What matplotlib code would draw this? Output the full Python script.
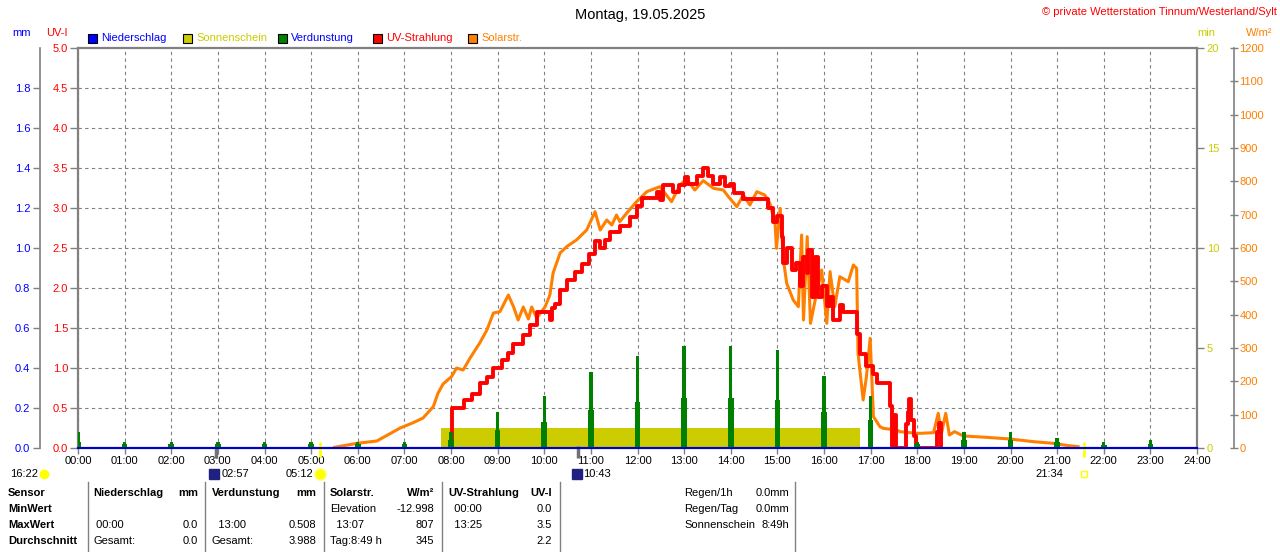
import numpy as np
import matplotlib.pyplot as plt
from matplotlib.patches import Rectangle
from matplotlib.lines import Line2D

plt.rcParams['font.family'] = ['Liberation Sans', 'DejaVu Sans']
plt.rcParams['font.size'] = 8

# ---- data ----
hours = list(range(24))
hour_labels = ['%02d:00' % h for h in range(25)]

# Solarstrahlung W/m2
solar_t = [5.5, 5.98, 6.41, 6.91, 7.19, 7.4, 7.62, 7.72, 7.83, 8.01,
           8.12, 8.26, 8.41, 8.62, 8.77, 8.91, 9.05, 9.23, 9.34, 9.44,
           9.55, 9.66, 9.73, 9.84, 10.02, 10.12, 10.19, 10.34, 10.48, 10.69,
           10.91, 11.09, 11.2, 11.34, 11.45, 11.55, 11.62, 11.77, 11.98, 12.2,
           12.48, 12.73, 12.91, 13.05, 13.23, 13.41, 13.63, 13.84, 13.95, 14.13,
           14.27, 14.41, 14.56, 14.73, 14.84, 14.95, 14.98, 15.06, 15.13, 15.2,
           15.34, 15.45, 15.52, 15.56, 15.64, 15.71, 15.84, 15.95, 16.06, 16.13,
           16.23, 16.34, 16.52, 16.63, 16.7, 16.73, 16.84, 16.91, 16.99, 17.06,
           17.2, 17.27, 17.56, 17.63, 17.99, 18.06, 18.35, 18.45, 18.52, 18.61,
           18.69, 18.8, 18.99, 19.49, 19.99, 20.49, 20.92, 21.2, 21.45]
solar_w = [2, 14, 21, 60, 76, 90, 124, 164, 192, 214,
           240, 234, 270, 316, 354, 405, 409, 459, 424, 384,
           423, 387, 423, 390, 424, 459, 525, 585, 604, 624,
           654, 709, 654, 684, 669, 699, 679, 705, 739, 769,
           784, 739, 789, 807, 774, 802, 779, 774, 754, 724,
           759, 729, 769, 759, 734, 674, 599, 719, 564, 494,
           444, 424, 639, 384, 634, 374, 464, 534, 374, 529,
           424, 514, 499, 549, 539, 284, 144, 214, 329, 94,
           64, 59, 54, 49, 44, 44, 46, 104, 44, 104,
           39, 49, 36, 32, 27, 19, 14, 8, 4]

# UV-Index
uv_t = [8.0, 8.03, 8.27, 8.44, 8.62, 8.77, 8.91, 9.09, 9.23, 9.34,
        9.55, 9.69, 9.84, 10.13, 10.17, 10.23, 10.34, 10.48, 10.66, 10.8,
        10.95, 11.09, 11.2, 11.3, 11.41, 11.62, 11.84, 11.98, 12.09, 12.41,
        12.48, 12.55, 12.77, 12.88, 13.02, 13.09, 13.27, 13.41, 13.52, 13.63,
        13.77, 13.88, 13.98, 14.06, 14.27, 14.8, 14.91, 15.0, 15.09, 15.13,
        15.2, 15.31, 15.41, 15.48, 15.56, 15.63, 15.66, 15.74, 15.8, 15.88,
        15.95, 16.06, 16.13, 16.2, 16.34, 16.41, 16.7, 16.77, 16.91, 17.06,
        17.13, 17.41, 17.45, 17.5, 17.54, 17.76, 17.8, 17.83, 17.87, 17.92,
        17.98, 18.42, 18.46, 18.5]
uv_i = [0.0, 0.5, 0.6, 0.68, 0.81, 0.89, 1.0, 1.1, 1.19, 1.3,
        1.41, 1.54, 1.7, 1.6, 1.75, 1.8, 1.98, 2.1, 2.2, 2.3,
        2.43, 2.59, 2.5, 2.6, 2.7, 2.77, 2.89, 3.02, 3.12, 3.2,
        3.1, 3.29, 3.2, 3.29, 3.39, 3.3, 3.4, 3.5, 3.4, 3.3,
        3.39, 3.27, 3.3, 3.19, 3.11, 3.0, 2.83, 2.9, 2.64, 2.31,
        2.5, 2.22, 2.31, 2.02, 2.39, 2.19, 2.48, 1.89, 2.39, 1.89,
        2.02, 1.77, 1.89, 1.6, 1.79, 1.7, 1.43, 1.18, 1.02, 0.93,
        0.81, 0.52, 0.0, 0.41, 0.0, 0.3, 0.45, 0.61, 0.35, 0.15,
        0.0, 0.2, 0.31, 0.0]

# Verdunstung mm per hour (top) and lower part of each bar
evap_hi = [0.08, 0.03, 0.03, 0.03, 0.03, 0.03, 0.03, 0.03, 0.08, 0.18, 0.26, 0.38,
           0.46, 0.51, 0.51, 0.49, 0.36, 0.26, 0.03, 0.08, 0.08, 0.05, 0.03, 0.04]
evap_lo = [0.03, 0.02, 0.02, 0.02, 0.02, 0.02, 0.02, 0.02, 0.04, 0.09, 0.13, 0.19,
           0.23, 0.25, 0.25, 0.24, 0.18, 0.14, 0.02, 0.04, 0.04, 0.03, 0.015, 0.02]

# Sonnenschein (min)
sun_start = [7.78, 16.95]
sun_end = [16.78, 17.0]
sun_min = [1.0, 1.0]

# Niederschlag
rain_t = [0, 24]
rain_mm = [0.0, 0.0]

# Sonnen-/Mondauf- und -untergang
sun_events = [5.2, 21.567]
moon_events = [2.95, 10.717]

GREY = '#808080'
YELLOW = '#cccc00'
ORANGE = '#ff8000'
RED = '#ff0000'
BLUE = '#0000ff'
GREEN = '#008000'

W, H = 1280, 552
def fx(x):
    return x / W
def fy(y):
    return 1 - y / H

fig = plt.figure(figsize=(12.8, 5.52), dpi=100)
ax = fig.add_axes([fx(78), fy(448), (1197 - 78) / W, (448 - 48) / H])
ax_w = ax.twinx()
ax_uv = ax.twinx()
ax_mm = ax.twinx()
ax.set_zorder(1)
ax_w.set_zorder(2)
ax_uv.set_zorder(3)
ax_mm.set_zorder(4)

# base axes: time + sunshine minutes
ax.set_xlim(0, 24)
ax.set_ylim(0, 20)
ax.set_xticks(range(25))
ax.set_xticklabels(hour_labels)
ax.yaxis.tick_right()
ax.set_yticks([0, 5, 10, 15, 20])
ax.yaxis.remove_overlapping_locs = False
ax.set_yticks(np.arange(0, 20, 2), minor=True)
ax.tick_params(axis='x', direction='out', length=4, width=1, color=GREY, pad=2, labelcolor='black')
ax.tick_params(axis='y', which='major', direction='out', length=5, width=1, color=GREY,
               labelcolor=YELLOW, pad=2)
ax.tick_params(axis='y', which='minor', length=0)
ax.grid(axis='x', which='major', color=GREY, linestyle=(0, (3, 3)), linewidth=0.8)
ax.grid(axis='y', which='minor', color=GREY, linestyle=(0, (3, 3)), linewidth=0.8)
ax.set_axisbelow(True)
for s in ax.spines.values():
    s.set_color(GREY)
    s.set_linewidth(1.6)

ax.bar(sun_start, sun_min, width=np.subtract(sun_end, sun_start), align='edge',
       color=YELLOW, linewidth=0)

# W/m2 axis
ax_w.set_ylim(0, 1200)
ax_w.set_yticks(range(0, 1201, 100))
ax_w.spines['right'].set_position(('axes', (1234 - 78) / 1119))
ax_w.spines['right'].set_color(GREY)
ax_w.spines['right'].set_linewidth(1.2)
for k in ['left', 'top', 'bottom']:
    ax_w.spines[k].set_visible(False)
ax_w.tick_params(axis='y', direction='inout', length=6, width=1, color=GREY, labelcolor=ORANGE, pad=1)
ax_w.plot(solar_t, solar_w, color=ORANGE, linewidth=2.2)

# UV axis
ax_uv.set_ylim(0, 5)
ax_uv.yaxis.tick_left()
ax_uv.set_yticks(np.arange(0, 5.01, 0.5))
ax_uv.set_yticklabels(['%.1f' % v for v in np.arange(0, 5.01, 0.5)])
ax_uv.tick_params(axis='y', direction='out', length=6, width=1, color=GREY, labelcolor=RED, pad=1)
for k in ['right', 'top', 'bottom', 'left']:
    ax_uv.spines[k].set_visible(False)
ax_uv.plot(uv_t, uv_i, color=RED, linewidth=2.8, drawstyle='steps-post')

# mm axis
ax_mm.set_ylim(0, 2.0)
ax_mm.yaxis.tick_left()
ax_mm.set_yticks(np.arange(0, 1.81, 0.2))
ax_mm.set_yticklabels(['%.1f' % v for v in np.arange(0, 1.81, 0.2)])
ax_mm.spines['left'].set_position(('axes', -(78 - 40) / 1119))
ax_mm.spines['left'].set_color(GREY)
ax_mm.spines['left'].set_linewidth(1.2)
for k in ['right', 'top', 'bottom']:
    ax_mm.spines[k].set_visible(False)
ax_mm.tick_params(axis='y', direction='out', length=5, width=1, color=GREY, labelcolor=BLUE, pad=2)
ax_mm.bar(hours, evap_lo, width=0.12, color=GREEN, linewidth=0)
ax_mm.bar(hours, evap_hi, width=0.07, color=GREEN, linewidth=0)
ax_mm.plot(rain_t, rain_mm, color='#0000cc', linewidth=1.5, clip_on=False)

# twinx moved the base ticks to the left, put them back
ax.yaxis.tick_right()

# sunrise / moonrise marks on the time axis
ax.vlines(sun_events, -0.45, 0.3, colors='#ffff00', linewidth=2, clip_on=False, zorder=5)
ax.vlines(moon_events, -0.5, 0.1, colors='#707070', linewidth=2.5, clip_on=False, zorder=5)

# ---- texts ----
fig.text(0.5, fy(15), 'Montag, 19.05.2025', ha='center', va='center', fontsize=10.5)
fig.text(fx(1277), fy(12), '© private Wetterstation Tinnum/Westerland/Sylt', ha='right', va='center',
         color=RED, fontsize=8)
fig.text(fx(22), fy(33), 'mm', ha='center', va='center', color=BLUE)
fig.text(fx(57), fy(33), 'UV-I', ha='center', va='center', color=RED)
fig.text(fx(1206), fy(33), 'min', ha='center', va='center', color=YELLOW)
fig.text(fx(1259), fy(33), 'W/m²', ha='center', va='center', color=ORANGE)

legend_items = [('Niederschlag', BLUE, BLUE, 88), ('Sonnenschein', YELLOW, YELLOW, 183),
                ('Verdunstung', GREEN, BLUE, 278), ('UV-Strahlung', RED, RED, 373),
                ('Solarstr.', ORANGE, ORANGE, 468)]
for name, fc, tc, x0 in legend_items:
    fig.add_artist(Rectangle((fx(x0), fy(43)), 9 / W, 9 / H, transform=fig.transFigure,
                             facecolor=fc, edgecolor='black', linewidth=0.8))
    fig.text(fx(x0 + 13), fy(38), name, ha='left', va='center', color=tc)

# rise/set times under the axis
fig.text(fx(10), fy(474), '16:22', ha='left', va='center')
fig.text(fx(222), fy(474), '02:57', ha='left', va='center')
fig.text(fx(286), fy(474), '05:12', ha='left', va='center')
fig.text(fx(583), fy(474), '10:43', ha='left', va='center')
fig.text(fx(1035), fy(474), '21:34', ha='left', va='center')
for x0, mk, fc, ec, ms in [(44, 'o', '#ffff00', '#ffff00', 6), (214, 's', '#202080', '#202080', 7),
                           (320, 'o', '#ffff00', '#ffff60', 8), (577, 's', '#202080', '#202080', 7),
                           (1084, 's', 'white', '#ffff00', 5)]:
    fig.add_artist(Line2D([fx(x0)], [fy(474)], marker=mk, markersize=ms, markerfacecolor=fc,
                          markeredgecolor=ec, linestyle='none', transform=fig.transFigure))

# statistics table
rows_y = [493, 509, 525, 541]
for y, t in zip(rows_y, ['Sensor', 'MinWert', 'MaxWert', 'Durchschnitt']):
    fig.text(fx(8), fy(y), t, ha='left', va='center', fontweight='bold')
for x in [88, 205, 324, 442, 560, 795]:
    fig.add_artist(Line2D([fx(x), fx(x)], [fy(482), fy(552)], color=GREY, linewidth=1,
                          transform=fig.transFigure))

table_cells = [
    (93, 198, ['Niederschlag', '', ' 00:00', 'Gesamt:'], ['mm', '', '0.0', '0.0']),
    (212, 316, ['Verdunstung', '', '  13:00', 'Gesamt:'], ['mm', '', '0.508', '3.988']),
    (330, 434, ['Solarstr.', 'Elevation', '  13:07', 'Tag:8:49 h'], ['W/m²', '-12.998', '807', '345']),
    (448, 552, ['UV-Strahlung', '  00:00', '  13:25', ''], ['UV-I', '0.0', '3.5', '2.2']),
]
for xl, xr, lefts, rights in table_cells:
    for i, (l, r) in enumerate(zip(lefts, rights)):
        fw = 'bold' if i == 0 else 'normal'
        fig.text(fx(xl), fy(rows_y[i]), l, ha='left', va='center', fontweight=fw)
        fig.text(fx(xr), fy(rows_y[i]), r, ha='right', va='center', fontweight=fw)

for y, l, r in [(493, 'Regen/1h', '0.0mm'), (509, 'Regen/Tag', '0.0mm'), (525, 'Sonnenschein', '8:49h')]:
    fig.text(fx(684), fy(y), l, ha='left', va='center')
    fig.text(fx(789), fy(y), r, ha='right', va='center')

fig.savefig('out.png', dpi=100)
